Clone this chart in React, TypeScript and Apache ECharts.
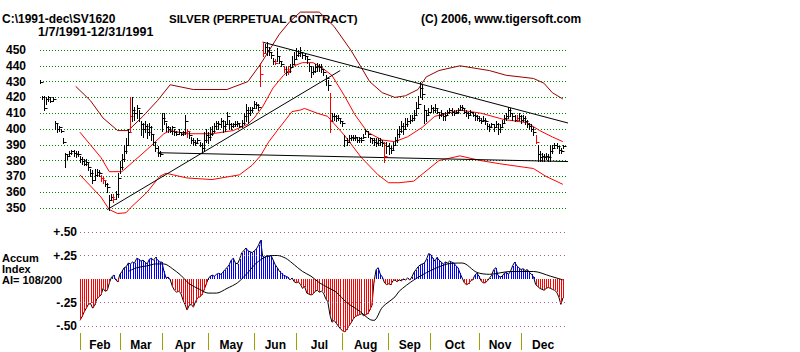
import React, { useEffect, useRef } from "react";
import * as echarts from "echarts";

// ---------- price panel data (trading-day index 0 = 1/7/1991) ----------
const priceHigh = [
  431, 421, 421, 420, 421, 420, 420, 405, 404, 402,
  400, 394, 385, 384, 386, 387, 387, 386, 386, 383,
  382, 381, 381, 379, 375, 374, 375, 375, 374, 371,
  370, 367, 366, 358, 359, 359, 361, 372, 380, 384,
  390, 394, 400, 420, 420, 414, 415, 412, 405, 404,
  405, 403, 404, 402, 396, 392, 389, 386, 410, 410,
  404, 402, 401, 402, 400, 399, 400, 398, 399, 409,
  400, 398, 395, 394, 393, 394, 392, 391, 398, 400,
  398, 401, 402, 404, 405, 405, 407, 406, 405, 411,
  406, 404, 404, 405, 405, 404, 406, 410, 416, 414,
  414, 414, 418, 417, 416, 442, 455, 454, 455, 452,
  449, 445, 444, 451, 446, 443, 440, 439, 440, 441,
  446, 449, 451, 450, 452, 449, 448, 446, 442, 439,
  439, 441, 442, 441, 441, 438, 434, 431, 423, 410,
  410, 409, 409, 407, 405, 396, 394, 396, 396, 396,
  396, 395, 395, 395, 397, 400, 399, 395, 394, 394,
  394, 394, 394, 393, 392, 392, 391, 389, 392, 395,
  400, 402, 405, 404, 407, 407, 409, 409, 412, 417,
  421, 430, 428, 415, 412, 413, 415, 414, 416, 413,
  411, 412, 410, 411, 412, 413, 413, 412, 412, 413,
  415, 415, 413, 412, 411, 412, 411, 410, 409, 408,
  407, 408, 407, 404, 403, 404, 403, 405, 404, 403,
  406, 409, 410, 414, 413, 410, 409, 409, 410, 409,
  409, 408, 406, 404, 403, 401, 396, 390, 386, 385,
  384, 385, 384, 390, 390, 391, 391, 389, 388, 390,
];
const priceLow = [
  429, 419, 412, 416, 418, 417, 418, 400, 398, 399,
  398, 391, 376, 381, 383, 384, 383, 382, 383, 379,
  378, 377, 377, 374, 370, 366, 368, 370, 370, 367,
  366, 364, 360, 349, 355, 354, 356, 357, 372, 375,
  380, 385, 390, 398, 405, 406, 407, 405, 396, 395,
  398, 394, 396, 393, 390, 386, 383, 383, 399, 403,
  399, 398, 398, 397, 396, 396, 397, 396, 396, 397,
  395, 394, 391, 390, 390, 391, 389, 385, 387, 392,
  391, 393, 396, 398, 400, 400, 401, 398, 399, 403,
  400, 400, 401, 402, 402, 401, 401, 403, 405, 404,
  409, 411, 413, 413, 412, 427, 446, 449, 447, 447,
  445, 441, 441, 443, 442, 440, 436, 434, 435, 436,
  439, 441, 444, 446, 446, 445, 444, 442, 437, 433,
  435, 436, 437, 437, 436, 434, 428, 425, 398, 405,
  406, 405, 406, 404, 402, 389, 390, 392, 393, 393,
  393, 392, 392, 392, 394, 397, 395, 392, 391, 390,
  389, 390, 390, 389, 379, 385, 384, 385, 387, 390,
  392, 395, 398, 397, 400, 402, 404, 405, 406, 409,
  413, 420, 419, 404, 405, 409, 411, 411, 411, 410,
  407, 408, 406, 406, 409, 410, 409, 409, 410, 410,
  412, 412, 410, 408, 407, 409, 408, 406, 406, 405,
  404, 405, 403, 400, 399, 401, 399, 401, 397, 398,
  402, 404, 406, 407, 408, 406, 405, 405, 406, 404,
  405, 403, 401, 400, 399, 396, 391, 380, 380, 380,
  380, 381, 380, 380, 385, 388, 388, 385, 385, 388,
];
const priceClose = [
  430, 420, 413, 419, 420, 418, 419, 404, 400, 401,
  399, 392, 384, 383, 385, 386, 385, 384, 384, 381,
  380, 378, 379, 376, 372, 368, 371, 373, 372, 369,
  368, 365, 363, 355, 357, 356, 359, 369, 376, 381,
  386, 390, 398, 408, 412, 410, 413, 410, 403, 400,
  402, 398, 401, 397, 392, 388, 385, 384, 407, 405,
  401, 400, 399, 401, 398, 397, 398, 397, 398, 405,
  399, 396, 393, 392, 391, 393, 390, 388, 393, 396,
  395, 397, 399, 402, 404, 403, 405, 402, 403, 408,
  403, 402, 403, 403, 404, 402, 404, 408, 412, 410,
  412, 413, 416, 415, 414, 435, 448, 452, 450, 449,
  447, 443, 442, 446, 443, 441, 438, 436, 437, 439,
  441, 444, 447, 448, 449, 447, 446, 444, 440, 436,
  437, 439, 440, 439, 438, 436, 432, 428, 405, 408,
  408, 407, 407, 405, 404, 393, 392, 394, 395, 394,
  395, 393, 394, 393, 395, 399, 397, 394, 393, 392,
  391, 393, 392, 391, 383, 389, 388, 387, 390, 393,
  397, 399, 402, 400, 403, 405, 406, 407, 409, 413,
  416, 426, 422, 412, 409, 411, 413, 412, 413, 411,
  409, 410, 408, 409, 411, 412, 411, 410, 411, 412,
  414, 413, 411, 410, 409, 411, 409, 408, 407, 406,
  405, 406, 405, 402, 401, 403, 401, 403, 400, 401,
  404, 407, 408, 412, 410, 408, 406, 407, 408, 406,
  407, 405, 403, 402, 400, 398, 392, 384, 382, 383,
  382, 383, 382, 386, 388, 390, 389, 387, 386, 389,
];
const redBarDays = [29, 30, 35, 43, 70, 105, 106, 112, 116, 118, 138, 164, 227, 236];

const upperBand = [
  [17, 427], [24, 418], [30, 407], [37, 399], [42, 399], [49, 408], [56, 418], [62, 428],
  [73, 425], [89, 425], [99, 430], [105, 441], [114, 460], [119, 468], [124, 474], [133, 474],
  [140, 465], [148, 450], [153, 439], [157, 430], [163, 423], [169, 420], [174, 421], [180, 425],
  [184, 433], [190, 437], [200, 440], [214, 437], [222, 434], [235, 432], [240, 429], [244, 423],
  [249, 419],
];
const midBand = [
  [19, 398], [24, 390], [29, 382], [33, 373], [39, 373], [45, 380], [51, 387], [59, 397],
  [62, 399], [70, 397], [82, 397], [92, 399], [99, 403], [102, 407], [106, 414], [111, 426],
  [116, 434], [121, 440], [125, 442], [130, 442], [134, 439], [139, 434], [145, 421], [150, 409],
  [156, 398], [163, 393], [169, 392], [175, 395], [182, 401], [188, 408], [200, 412], [210, 410],
  [221, 406], [232, 404], [238, 399], [244, 395], [249, 392],
];
const lowerBand = [
  [19, 371], [24, 364], [29, 357], [33, 349], [37, 346.5], [41, 347], [43, 350], [51, 360],
  [57, 370], [60, 372], [70, 369], [82, 368], [95, 371], [101, 377], [105, 383], [109, 392],
  [113, 399], [120, 411], [124, 412], [126, 413], [132, 410], [137, 408], [145, 396], [153, 382],
  [161, 371], [166, 366], [171, 366], [178, 367], [190, 380], [200, 383], [210, 380], [219, 378],
  [235, 375], [241, 370], [249, 365],
];
const upTrend = [[32, 349], [143, 437]];
const downTrend = [[106, 455], [275, 395.5]];
const supportLine = [[56, 385], [265, 379]];

// ---------- accumulation index panel ----------
const aiStartDay = 19;
const accumIndex = [
  -0.44, -0.40, -0.35, -0.31, -0.27, -0.26, -0.31, -0.28, -0.21, -0.19,
  -0.17, -0.10, -0.13, -0.12, -0.04, 0.02, 0.04, -0.01, -0.03, 0.05,
  0.08, 0.12, 0.13, 0.17, 0.16, 0.18, 0.17, 0.22, 0.21, 0.19,
  0.20, 0.18, 0.16, 0.21, 0.22, 0.20, 0.23, 0.20, 0.18, 0.18,
  0.08, 0.01, 0.02, -0.01, -0.08, -0.12, -0.14, -0.13, -0.15, -0.22,
  -0.27, -0.33, -0.28, -0.27, -0.30, -0.24, -0.20, -0.19, -0.17, -0.12,
  -0.06, 0.00, 0.03, 0.04, 0.03, 0.05, 0.06, 0.05, 0.07, 0.10,
  0.12, 0.15, 0.20, 0.22, 0.17, 0.16, 0.21, 0.28, 0.30, 0.33,
  0.30, 0.29, 0.28, 0.30, 0.32, 0.36, 0.41, 0.24, 0.23, 0.25,
  0.24, 0.25, 0.20, 0.15, 0.12, 0.08, 0.06, 0.04, 0.03, 0.02,
  -0.01, 0.01, -0.03, -0.04, -0.03, -0.06, -0.10, -0.08, -0.15, -0.16,
  -0.17, -0.16, -0.13, -0.12, -0.14, -0.13, -0.15, -0.21, -0.24, -0.38,
  -0.46, -0.44, -0.47, -0.50, -0.53, -0.55, -0.56, -0.54, -0.50, -0.47,
  -0.43, -0.40, -0.39, -0.38, -0.37, -0.39, -0.38, -0.37, -0.33, -0.28,
  -0.03, 0.10, 0.12, 0.05, 0.02, -0.04, -0.06, -0.05, -0.06, -0.02,
  -0.01, -0.03, -0.01, -0.02, 0.00, -0.01, 0.01, -0.01, 0.02, 0.07,
  0.10, 0.13, 0.15, 0.16, 0.17, 0.21, 0.27, 0.26, 0.22, 0.19,
  0.23, 0.20, 0.18, 0.16, 0.18, 0.17, 0.19, 0.18, 0.17, 0.14,
  0.12, 0.06, 0.01, -0.04, -0.06, -0.05, -0.02, -0.01, 0.04, 0.06,
  0.03, -0.02, -0.04, -0.04, -0.02, 0.01, 0.04, 0.10, 0.12, 0.04,
  0.02, 0.03, 0.06, 0.07, 0.05, 0.08, 0.14, 0.18, 0.14, 0.12,
  0.10, 0.11, 0.09, 0.10, 0.07, 0.05, 0.02, -0.06, -0.08, -0.10,
  -0.11, -0.12, -0.10, -0.09, -0.10, -0.11, -0.12, -0.14, -0.19, -0.27,
  -0.20,
];
const accumMA = [
  [42, 0.08], [46, 0.12], [51, 0.14], [55, 0.16], [59, 0.16], [63, 0.11], [67, 0.04], [71, -0.05],
  [76, -0.11], [80, -0.15], [84, -0.15], [89, -0.1], [94, -0.04], [99, 0.07], [103, 0.17], [108, 0.24],
  [113, 0.25], [117, 0.22], [120, 0.17], [125, 0.08], [129, 0.03], [133, -0.04], [137, -0.09], [141, -0.14],
  [146, -0.25], [152, -0.34], [157, -0.43], [159, -0.44], [163, -0.3], [169, -0.19], [171, -0.13], [178, -0.01],
  [186, 0.09], [194, 0.16], [201, 0.17], [208, 0.07], [214, 0.05], [224, 0.08], [235, 0.08], [243, 0.03],
  [249, -0.01],
];
const aiGridValues = [0.5, 0.25, -0.25, -0.5];
const aiTickValues = [0.5, 0.25, 0, -0.25, -0.5];
const aiTickText = ["+.50", "+.25", "", "-.25", "-.50"];

const monthNames = ["Feb", "Mar", "Apr", "May", "Jun", "Jul", "Aug", "Sep", "Oct", "Nov", "Dec"];
const monthStarts = [19, 38, 58, 80, 102, 122, 144, 166, 186, 209, 229];
const lastDay = 250;

const titleTexts = [
  "C:\\1991-dec\\SV1620",
  "1/7/1991-12/31/1991",
  "SILVER (PERPETUAL CONTRACT)",
  "(C) 2006, www.tigersoft.com",
];
const aiCaption = ["Accum", "Index", "AI= 108/200"];

const FONT = 'Arial, "Liberation Sans", sans-serif';

export default function App() {
  const ref = useRef<HTMLDivElement>(null);

  useEffect(() => {
    if (!ref.current) return;
    const chart = echarts.init(ref.current, null, { renderer: "svg" });

    const monthMids = monthStarts.map((s, i) => (s + (i + 1 < monthStarts.length ? monthStarts[i + 1] : lastDay)) / 2);
    const priceData = priceClose.map((c, i) => [i, priceHigh[i], priceLow[i], c, redBarDays.includes(i) ? 1 : 0]);
    const aiData = accumIndex.map((v, i) => [aiStartDay + i, v]);

    const lineSeries = (data: number[][], color: string, extra: any = {}) => ({
      type: "line",
      xAxisIndex: 0,
      yAxisIndex: 0,
      data,
      showSymbol: false,
      clip: false,
      silent: true,
      lineStyle: { color, width: 1 },
      z: 2,
      ...extra,
    });

    const txt = (text: string, x: number, y: number, size: number) => ({
      type: "text",
      x,
      y,
      silent: true,
      style: { text, font: `bold ${size}px ${FONT}`, fill: "#000", verticalAlign: "middle" },
    });

    chart.setOption({
      animation: false,
      backgroundColor: "#ffffff",
      grid: [
        { left: 40, top: 50, width: 527, height: 158 },
        { left: 80, top: 232, width: 487.2, height: 94 },
      ],
      xAxis: [
        { type: "value", gridIndex: 0, min: 0, max: 251, show: false },
        {
          type: "value",
          gridIndex: 1,
          min: 19,
          max: 251,
          offset: 7,
          position: "bottom",
          axisLine: { show: false, onZero: false },
          splitLine: { show: false },
          axisTick: { show: true, customValues: monthStarts, length: 17, lineStyle: { color: "#a0a000", width: 1 } },
          axisLabel: {
            customValues: monthMids,
            margin: 6,
            color: "#000",
            fontWeight: "bold",
            fontSize: 12,
            fontFamily: FONT,
            formatter: (v: number) => {
              const i = monthMids.findIndex((m) => Math.abs(m - v) < 0.01);
              return i >= 0 ? monthNames[i] : "";
            },
          },
        },
      ],
      yAxis: [
        {
          type: "value",
          gridIndex: 0,
          min: 350,
          max: 450,
          interval: 10,
          axisLine: { show: false },
          axisTick: { show: false },
          splitLine: { show: true, lineStyle: { color: "#008000", type: [1, 2], width: 1 } },
          axisLabel: { color: "#000", fontWeight: "bold", fontSize: 12, fontFamily: FONT, margin: 14 },
        },
        {
          type: "value",
          gridIndex: 1,
          min: -0.5,
          max: 0.5,
          interval: 0.25,
          axisLine: { show: false, onZero: false },
          axisTick: { show: false },
          splitLine: { show: false },
          axisLabel: {
            color: "#000",
            fontWeight: "bold",
            fontSize: 12,
            fontFamily: FONT,
            margin: 3,
            formatter: (v: number) => {
              const i = aiTickValues.findIndex((t) => Math.abs(t - v) < 1e-6);
              return i >= 0 ? aiTickText[i] : "";
            },
          },
        },
      ],
      graphic: [
        txt(titleTexts[0], 2, 19, 12),
        txt(titleTexts[1], 38, 32, 12.5),
        txt(titleTexts[2], 169, 19, 11.5),
        txt(titleTexts[3], 421, 19, 12),
        txt(aiCaption[0], 2, 258, 11),
        txt(aiCaption[1], 2, 269, 11),
        txt(aiCaption[2], 2, 280, 11),
      ],
      series: [
        lineSeries(upperBand, "#990000"),
        lineSeries(midBand, "#ff0000"),
        lineSeries(lowerBand, "#ff0000"),
        lineSeries(upTrend, "#000000"),
        lineSeries(downTrend, "#000000"),
        lineSeries(supportLine, "#000000"),
        {
          type: "custom",
          xAxisIndex: 0,
          yAxisIndex: 0,
          clip: false,
          silent: true,
          z: 3,
          data: priceData,
          encode: { x: 0, y: [1, 2, 3] },
          renderItem: (_params: any, api: any) => {
            const d = api.value(0);
            const pHi = api.coord([d, api.value(1)]);
            const pLo = api.coord([d, api.value(2)]);
            const pCl = api.coord([d, api.value(3)]);
            const color = api.value(4) ? "#ff0000" : "#000000";
            const x = Math.round(pHi[0]) + 0.5;
            const yc = Math.round(pCl[1]) + 0.5;
            return {
              type: "group",
              children: [
                { type: "line", shape: { x1: x, y1: Math.round(pHi[1]), x2: x, y2: Math.round(pLo[1]) + 1 }, style: { stroke: color, lineWidth: 1 } },
                { type: "line", shape: { x1: x, y1: yc, x2: x + 3, y2: yc }, style: { stroke: color, lineWidth: 1 } },
              ],
            };
          },
        },
        {
          type: "line",
          xAxisIndex: 1,
          yAxisIndex: 1,
          data: aiData,
          showSymbol: false,
          clip: false,
          silent: true,
          z: 2,
          lineStyle: { color: "#000", width: 1 },
          markLine: {
            silent: true,
            symbol: ["none", "none"],
            label: { show: false },
            lineStyle: { color: "#b06090", type: [1, 3], width: 1 },
            data: aiGridValues.map((v) => ({ yAxis: v })),
          },
        },
        {
          type: "custom",
          xAxisIndex: 1,
          yAxisIndex: 1,
          clip: false,
          silent: true,
          z: 3,
          data: aiData,
          encode: { x: 0, y: 1 },
          renderItem: (_params: any, api: any) => {
            const d = api.value(0);
            const v = api.value(1);
            const p0 = api.coord([d, 0]);
            const p1 = api.coord([d, v]);
            const x = Math.round(p0[0]);
            const y0 = Math.round(p0[1]);
            const y1 = Math.round(p1[1]);
            return {
              type: "rect",
              shape: { x, y: Math.min(y0, y1), width: 1, height: Math.max(1, Math.abs(y1 - y0)) },
              style: { fill: v >= 0 ? "#0000ff" : "#ff0000" },
            };
          },
        },
        {
          type: "line",
          xAxisIndex: 1,
          yAxisIndex: 1,
          data: accumMA,
          showSymbol: false,
          smooth: 0.3,
          clip: false,
          silent: true,
          z: 5,
          lineStyle: { color: "#000", width: 1 },
        },
      ],
    });

    return () => chart.dispose();
  }, []);

  return (
    <div
      ref={ref}
      style={{ position: "absolute", left: 0, top: 0, width: 800, height: 352, background: "#fff" }}
    />
  );
}
